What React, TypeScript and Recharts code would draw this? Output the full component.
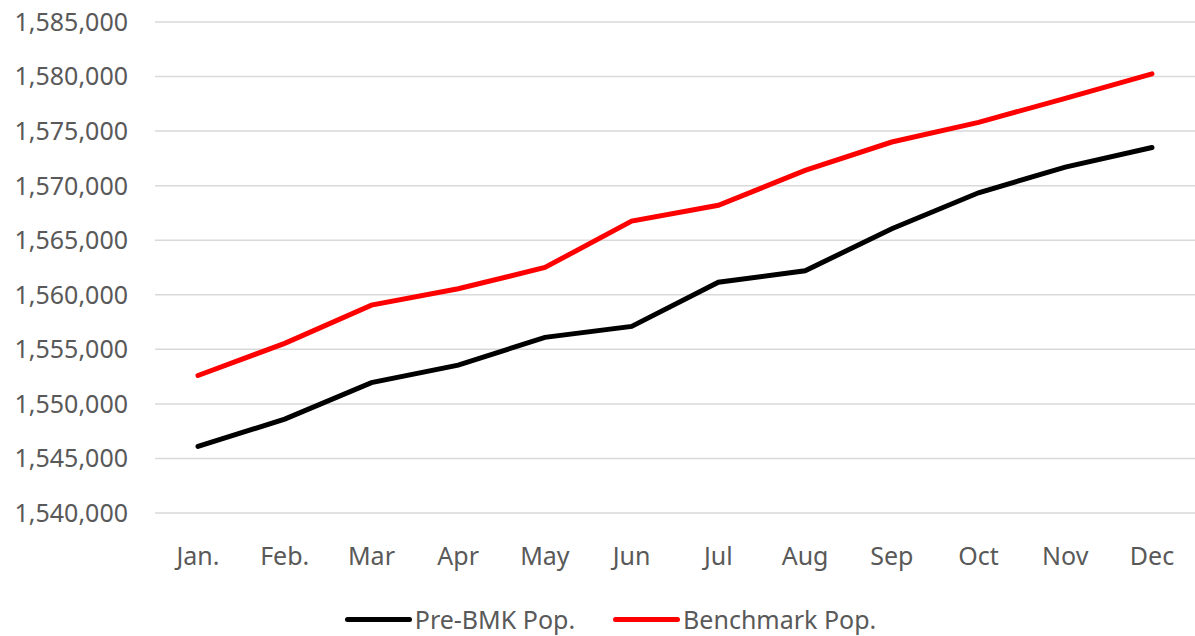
import React from "react";
import { LineChart, Line, XAxis, YAxis, CartesianGrid, Legend } from "recharts";

const months = ["Jan.", "Feb.", "Mar", "Apr", "May", "Jun", "Jul", "Aug", "Sep", "Oct", "Nov", "Dec"];
const preBmk = [1546100, 1548600, 1551950, 1553550, 1556100, 1557100, 1561150, 1562200, 1566050, 1569350, 1571700, 1573500];
const benchmark = [1552600, 1555550, 1559050, 1560550, 1562500, 1566750, 1568200, 1571400, 1574000, 1575800, 1578000, 1580250];
const yTicks = [1540000, 1545000, 1550000, 1555000, 1560000, 1565000, 1570000, 1575000, 1580000, 1585000];
const seriesNames = ["Pre-BMK Pop.", "Benchmark Pop."];

const data = months.map((m, i) => ({ month: m, pre: preBmk[i], bench: benchmark[i] }));

const textColor = "#595959";

function LegendContent(props: any) {
  // keep series order, recharts sorts legend items by name otherwise
  const items = [...(props.payload || [])].sort(
    (a: any, b: any) => seriesNames.indexOf(a.value) - seriesNames.indexOf(b.value)
  );
  return (
    <div style={{ height: 53, paddingTop: 22, boxSizing: "border-box", display: "flex", justifyContent: "center", paddingLeft: 26 }}>
      {items.map((it: any, i: number) => (
        <div key={it.value} style={{ display: "flex", alignItems: "center", height: 28, marginLeft: i === 0 ? 0 : 38 }}>
          <span style={{ display: "inline-block", width: 67, height: 5, borderRadius: 3, background: it.color, marginRight: 3 }} />
          <span style={{ fontSize: 25, color: textColor, lineHeight: "28px" }}>{it.value}</span>
        </div>
      ))}
    </div>
  );
}

export default function App() {
  return (
    <div style={{ position: "absolute", left: 0, top: 0, width: 1195, height: 636, background: "#fff", fontFamily: "'Noto Sans', sans-serif" }}>
      <LineChart width={1195} height={636} data={data} margin={{ top: 22, right: 0, left: 0, bottom: 0 }}>
        <CartesianGrid vertical={false} stroke="#d9d9d9" strokeWidth={1.5} />
        <XAxis
          dataKey="month"
          axisLine={false}
          tickLine={false}
          tickSize={0}
          tickMargin={34}
          height={70}
          padding={{ left: 43, right: 43 }}
          interval={0}
          tick={{ fill: textColor, fontSize: 25 }}
        />
        <YAxis
          domain={[1540000, 1585000]}
          ticks={yTicks}
          axisLine={false}
          tickLine={false}
          tickSize={0}
          tickMargin={27}
          width={155}
          tick={{ fill: textColor, fontSize: 25 }}
          tickFormatter={(v: number) => v.toLocaleString("en-US")}
        />
        <Legend verticalAlign="bottom" height={53} content={<LegendContent />} />
        <Line type="linear" dataKey="pre" name="Pre-BMK Pop." stroke="#000000" strokeWidth={5} dot={false} strokeLinecap="round" isAnimationActive={false} />
        <Line type="linear" dataKey="bench" name="Benchmark Pop." stroke="#ff0000" strokeWidth={5} dot={false} strokeLinecap="round" isAnimationActive={false} />
      </LineChart>
    </div>
  );
}
